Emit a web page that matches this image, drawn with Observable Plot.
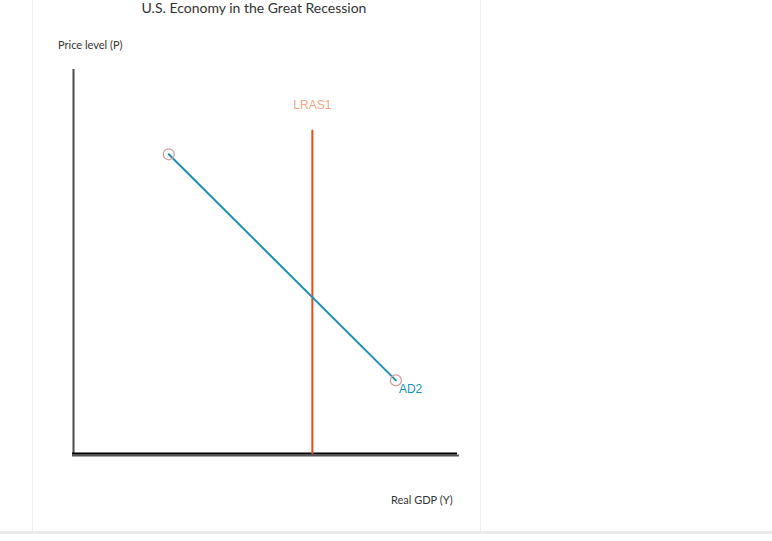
<!DOCTYPE html>
<html>
<head>
<meta charset="utf-8">
<script src="https://cdn.jsdelivr.net/npm/d3@7"></script>
<script src="https://cdn.jsdelivr.net/npm/@observablehq/plot@0.6"></script>
<style>
  html, body { margin: 0; padding: 0; background: #fff; }
  #wrap { position: relative; width: 772px; height: 541px; overflow: hidden; font-family: Lato, "Open Sans", sans-serif; }
  #title { position: absolute; left: 54px; width: 400px; top: 1px; text-align: center; font-size: 14px; line-height: 14px; color: #333; }
  #ylab { position: absolute; left: 58px; top: 38px; font-size: 11px; color: #333; }
  #xlab { position: absolute; left: 391px; top: 493px; font-size: 11px; color: #333; }
  .vb { position: absolute; top: 0; height: 531px; width: 1px; background: #f0f0f0; }
  #bottom { position: absolute; left: 0; top: 531px; width: 772px; height: 3px; background: #ebebeb; }
  #chart { position: absolute; left: 0; top: 0; }
</style>
</head>
<body>
<div id="wrap">
  <div class="vb" style="left:32px"></div>
  <div class="vb" style="left:480px"></div>
  <div id="bottom"></div>
  <div id="chart"></div>
  <div id="title">U.S. Economy in the Great Recession</div>
  <div id="ylab">Price level (P)</div>
  <div id="xlab">Real GDP (Y)</div>
</div>
<script>
// AD2 curve endpoints
const adX = [2.5, 8.4];
const adY = [7.9, 1.95];
// LRAS1 vertical line
const lrasX = 6.23;
const lrasTop = 8.53;
const lrasLabelY = 9.2;
// axis extents
const yAxisTop = 10.13;
const xAxisRight = 10.0;

const ad = adX.map((x, i) => ({x, y: adY[i]}));

const plot = Plot.plot({
  width: 772,
  height: 541,
  marginLeft: 72,
  marginRight: 315,
  marginTop: 74,
  marginBottom: 87,
  x: {domain: [0, 10], axis: null},
  y: {domain: [0, 10], axis: null},
  style: {background: "transparent", overflow: "visible"},
  marks: [
    Plot.ruleX([0], {y1: 0, y2: yAxisTop, stroke: "#4a4a4a", strokeWidth: 2, dx: 1}),
    Plot.ruleY([0], {x1: 0, x2: xAxisRight + 0.05, stroke: "#555", strokeWidth: 2, dy: 1}),
    Plot.ruleY([0], {x1: 0, x2: xAxisRight, stroke: "#000", strokeWidth: 2, dy: -1}),
    Plot.ruleX([lrasX], {y1: 0, y2: lrasTop, stroke: "#e0501a", strokeWidth: 2}),
    Plot.text([{x: lrasX, y: lrasLabelY}], {x: "x", y: "y", text: () => "LRAS1", fill: "#f4a582", fontSize: 12, fontFamily: "Liberation Sans, Arial, sans-serif"}),
    Plot.line(ad, {x: "x", y: "y", stroke: "#1a8fba", strokeWidth: 2}),
    Plot.dot(ad, {x: "x", y: "y", r: 5.5, stroke: "#d49a9a", strokeWidth: 1.2, fill: "none"}),
    Plot.text([ad[1]], {x: "x", y: "y", text: () => "AD2", fill: "#1a8fba", fontSize: 12, textAnchor: "start", dx: 3, dy: 9, fontFamily: "Liberation Sans, Arial, sans-serif"})
  ]
});
document.getElementById("chart").appendChild(plot);
</script>
</body>
</html>
